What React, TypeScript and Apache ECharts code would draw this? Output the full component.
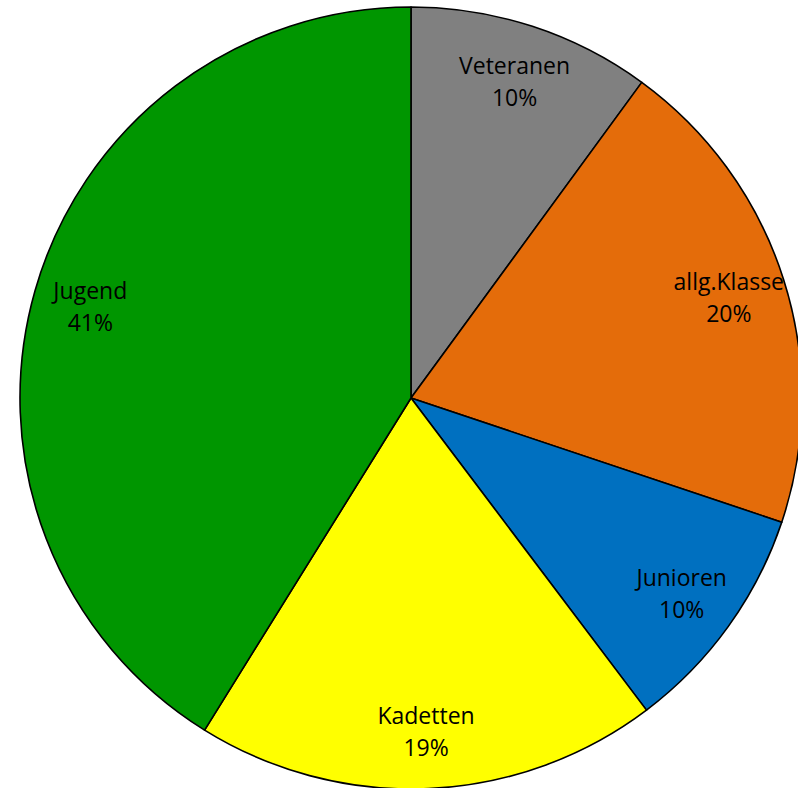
import React, { useEffect, useRef } from "react";
import * as echarts from "echarts";

const categories = ["Veteranen", "allg.Klasse", "Junioren", "Kadetten", "Jugend"];
const counts = [21, 42, 20, 40, 86];
const colors = ["#808080", "#E46C0A", "#0070C0", "#FFFF00", "#009600"];

export default function App() {
  const ref = useRef<HTMLDivElement>(null);
  useEffect(() => {
    if (!ref.current) return;
    const chart = echarts.init(ref.current, null, { renderer: "svg" });
    const data = categories.map((name, i) => ({
      name,
      value: counts[i],
      itemStyle: { color: colors[i] },
    }));
    chart.setOption({
      animation: false,
      backgroundColor: "#ffffff",
      series: [
        {
          type: "pie",
          center: [411, 398],
          radius: [0, 391],
          startAngle: 90,
          clockwise: true,
          data,
          label: { show: false },
          labelLine: { show: false },
          itemStyle: { borderColor: "#000000", borderWidth: 1.6 },
          silent: true,
        },
        {
          type: "pie",
          center: [411, 398],
          radius: [270, 391],
          startAngle: 90,
          clockwise: true,
          data: data.map((d) => ({ ...d, itemStyle: { color: "transparent" } })),
          itemStyle: { borderWidth: 0, color: "transparent" },
          silent: true,
          percentPrecision: 0,
          label: {
            show: true,
            position: "inside",
            formatter: "{b}\n{d}%",
            fontFamily: "Open Sans",
            fontSize: 23,
            lineHeight: 32,
            padding: [12, 0, 0, 0],
            color: "#000000",
            align: "center",
          },
          labelLine: { show: false },
        },
      ],
    });
    return () => chart.dispose();
  }, []);
  return (
    <div
      ref={ref}
      style={{ position: "fixed", left: 0, top: 0, width: 798, height: 788 }}
    />
  );
}
